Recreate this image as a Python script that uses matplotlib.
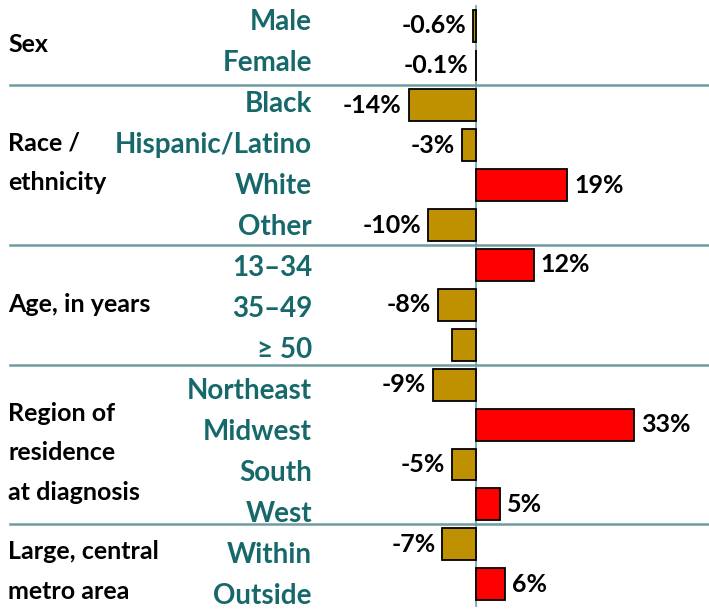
import matplotlib
matplotlib.use("Agg")
import matplotlib.pyplot as plt
from matplotlib.transforms import blended_transform_factory

categories = ["Male", "Female", "Black", "Hispanic/Latino", "White", "Other",
              "13\u201334", "35\u201349", "\u2265 50",
              "Northeast", "Midwest", "South", "West", "Within", "Outside"]
values = [-0.6, -0.1, -14, -3, 19, -10, 12, -8, -5, -9, 33, -5, 5, -7, 6]
value_labels = ["-0.6%", "-0.1%", "-14%", "-3%", "19%", "-10%", "12%", "-8%", "",
                "-9%", "33%", "-5%", "5%", "-7%", "6%"]
groups = [["Sex"], ["Race /", "ethnicity"], ["Age, in years"],
          ["Region of", "residence", "at diagnosis"], ["Large, central", "metro area"]]
group_rows = [(0, 1), (2, 5), (6, 8), (9, 12), (13, 14)]

W, H = 709, 610
fig = plt.figure(figsize=(W / 100, H / 100), dpi=100)
ax = fig.add_axes([0, 0, 1, 1])
ax.axis("off")

zero_px = 476.0
px_per = 4.8
ax.set_xlim(-zero_px / px_per, (W - zero_px) / px_per)
row0 = 25.6
step = 39.9
ax.set_ylim((H - row0) / step, -row0 / step)

fam = ["Lato", "DejaVu Sans"]
gold = "#BF9000"
red = "#FF0000"
teal = "#17686A"
sep_col = "#6E9CA0"

ypos = list(range(len(categories)))
colors = [red if v > 0 else gold for v in values]
ax.barh(ypos, values, height=0.8, color=colors, edgecolor="black", linewidth=1.3, zorder=3)

# zero line
ax.plot([0, 0], [-0.5, len(categories) - 0.45], color=sep_col, lw=1.2, zorder=2)

xt = blended_transform_factory(fig.transFigure, ax.transData)
# separators
for (a, b) in group_rows[:-1]:
    ax.plot([10 / W, 1], [b + 0.5, b + 0.5], transform=xt, color=sep_col, lw=1.8, zorder=1)

# category labels (pixel rows, slightly wider pitch than the bars)
for i, c in enumerate(categories):
    py = 22 + 41.0 * i
    fig.text(312 / W, 1 - py / H, c, ha="right", va="center", fontsize=20,
             fontweight="bold", color=teal, family=fam)

# value labels
off = 7 / px_per
for i, (v, lab) in enumerate(zip(values, value_labels)):
    if not lab:
        continue
    if v < 0:
        ax.text(v - off, i, lab, ha="right", va="center", fontsize=18,
                fontweight="bold", color="black", family=fam)
    else:
        ax.text(v + off, i, lab, ha="left", va="center", fontsize=18,
                fontweight="bold", color="black", family=fam)

# group labels
group_center_px = [44, 162.5, 305, 453, 571.5]
pitch = 39.5
for lines, cy in zip(groups, group_center_px):
    n = len(lines)
    for k, line in enumerate(lines):
        py = cy + (k - (n - 1) / 2) * pitch
        fig.text(8 / W, 1 - py / H, line, ha="left", va="center", fontsize=18,
                 fontweight="bold", color="black", family=fam)

fig.savefig("out.png", dpi=100)
